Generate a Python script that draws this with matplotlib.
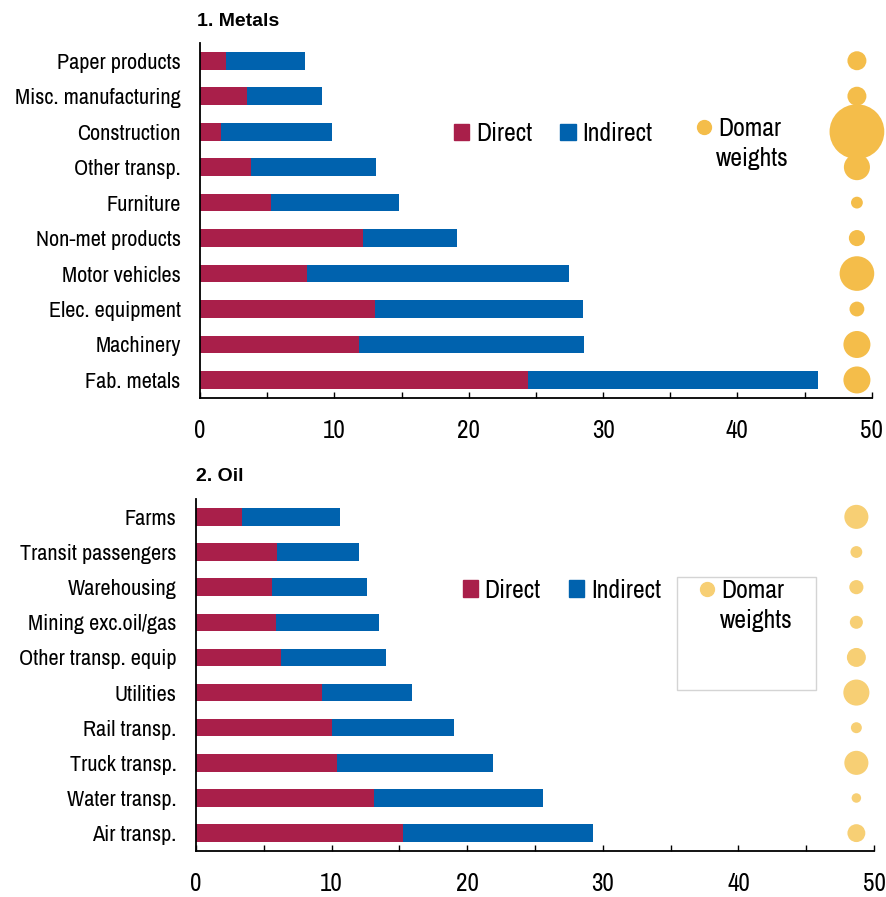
import matplotlib
matplotlib.use("Agg")
import matplotlib.pyplot as plt
from matplotlib.patches import Patch, Rectangle
from matplotlib.lines import Line2D
from matplotlib.ticker import MultipleLocator

plt.rcParams["font.family"] = ["Archivo Narrow", "Liberation Sans", "DejaVu Sans"]

# 1. Metals
metals_sectors = ["Paper products", "Misc. manufacturing", "Construction", "Other transp.",
                  "Furniture", "Non-met products", "Motor vehicles", "Elec. equipment",
                  "Machinery", "Fab. metals"]
metals_direct = [1.9, 3.5, 1.6, 3.8, 5.3, 12.1, 8.0, 13.0, 11.8, 24.4]
metals_total = [7.8, 9.1, 9.8, 13.1, 14.8, 19.1, 27.5, 28.5, 28.6, 46.0]
metals_domar = [0.36, 0.36, 3.0, 0.68, 0.14, 0.26, 1.2, 0.22, 0.73, 0.73]

# 2. Oil
oil_sectors = ["Farms", "Transit passengers", "Warehousing", "Mining exc.oil/gas",
               "Other transp. equip", "Utilities", "Rail transp.", "Truck transp.",
               "Water transp.", "Air transp."]
oil_direct = [3.4, 6.0, 5.6, 5.9, 6.3, 9.3, 10.0, 10.4, 13.1, 15.3]
oil_total = [10.6, 12.0, 12.6, 13.5, 14.0, 15.9, 19.0, 21.9, 25.6, 29.3]
oil_domar = [0.58, 0.14, 0.2, 0.17, 0.36, 0.68, 0.12, 0.58, 0.09, 0.32]

DIRECT = "#A91F4A"
INDIRECT = "#0062AE"
DOMAR_TOP = "#F4BD4A"
DOMAR_BOT = "#F7CF74"
W, H = 887, 897


def draw_panel(ax, sectors, direct, total, domar, dot_color, bubble_x):
    y = list(range(len(sectors)))
    indirect = [t - d for t, d in zip(total, direct)]
    ax.barh(y, direct, height=0.5, color=DIRECT, label="Direct")
    ax.barh(y, indirect, left=direct, height=0.5, color=INDIRECT, label="Indirect")
    # bubble area ~ domar weight
    sizes = [w * 518 for w in domar]
    ax.scatter([bubble_x] * len(y), y, s=sizes, color=dot_color, zorder=3,
               clip_on=False, linewidths=0)

    ax.set_ylim(len(sectors) - 0.5, -0.5)
    ax.set_xlim(0, 50)
    ax.set_yticks(y)
    ax.set_yticklabels(sectors, fontsize=16)
    ax.tick_params(axis="y", length=0, pad=14)
    ax.xaxis.set_major_locator(MultipleLocator(10))
    ax.xaxis.set_minor_locator(MultipleLocator(5))
    ax.tick_params(axis="x", which="both", direction="in", length=4.5, width=1,
                   labelsize=18, pad=15)
    for side in ["top", "right"]:
        ax.spines[side].set_visible(False)
    for side in ["left", "bottom"]:
        ax.spines[side].set_linewidth(1.3)


def fx(px):
    return px / W


def fy(py):
    return 1 - py / H


fig = plt.figure(figsize=(8.87, 8.97), dpi=100)

ax1 = fig.add_axes([fx(200), fy(397.7), fx(871.7 - 200), (397.7 - 43) / H])
draw_panel(ax1, metals_sectors, metals_direct, metals_total, metals_domar, DOMAR_TOP, 48.9)

ax2 = fig.add_axes([fx(196), fy(850.7), fx(874 - 196), (850.7 - 499.3) / H])
draw_panel(ax2, oil_sectors, oil_direct, oil_total, oil_domar, DOMAR_BOT, 48.7)

title_font = dict(fontsize=14, fontweight="bold", family=["Liberation Sans", "DejaVu Sans"],
                  va="center")
fig.text(fx(197), fy(21), "1. Metals", **title_font)
fig.text(fx(196), fy(476), "2. Oil", **title_font)

bar_handles = [Patch(color=DIRECT, label="Direct"), Patch(color=INDIRECT, label="Indirect")]


def add_legends(ax, sq_x, sq_y, dot_x, dot_y, dot_color):
    leg = ax.legend(handles=bar_handles, ncol=2, frameon=False, fontsize=18.5,
                    loc="center left", bbox_to_anchor=(fx(sq_x), fy(sq_y)),
                    bbox_transform=fig.transFigure, borderpad=0, borderaxespad=0,
                    handlelength=0.6, handleheight=0.6, handletextpad=0.25,
                    columnspacing=1.1)
    ax.add_artist(leg)
    dot = Line2D([], [], marker="o", linestyle="none", color=dot_color,
                 markersize=10, label="Domar")
    ax.legend(handles=[dot], frameon=False, fontsize=18.5, loc="center left",
              bbox_to_anchor=(fx(dot_x - 7), fy(dot_y)), bbox_transform=fig.transFigure,
              borderpad=0, borderaxespad=0, handlelength=0.6, handletextpad=0.25)
    fig.text(fx(dot_x + 13), fy(dot_y + 30), "weights", fontsize=18.5, va="center")


add_legends(ax1, 454, 133.7, 703.3, 128.3, DOMAR_TOP)
add_legends(ax2, 462.7, 590, 706.7, 590, DOMAR_BOT)

# frame around the oil Domar legend
fig.patches.append(Rectangle((fx(677), fy(690)), fx(816 - 677), (690 - 577) / H,
                             transform=fig.transFigure, fill=False,
                             edgecolor="#d4d4d4", linewidth=1))

fig.savefig("out.png", dpi=100)
